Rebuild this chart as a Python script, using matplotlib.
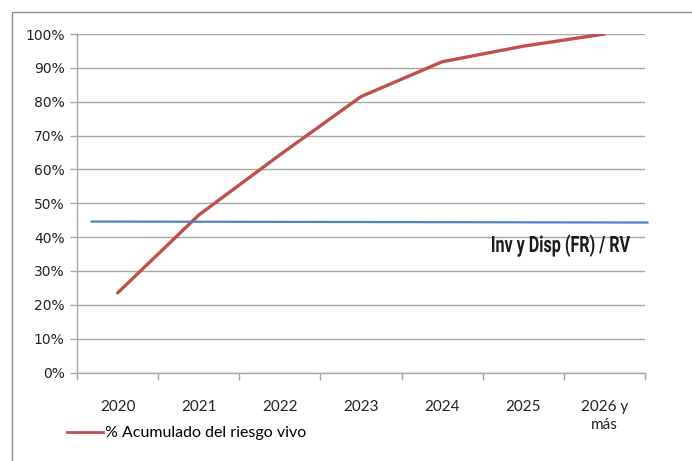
import matplotlib.pyplot as plt
from matplotlib.patches import Rectangle, PathPatch
from matplotlib.textpath import TextPath
from matplotlib.font_manager import FontProperties
from matplotlib.transforms import Affine2D, IdentityTransform

# datos
anios = ['2020', '2021', '2022', '2023', '2024', '2025', '2026 y\nmás']
acumulado = [23.5, 46.5, 64.3, 81.5, 91.8, 96.4, 100.0]
ratio_inv = [44.6, 44.3]  # Inv y Disp (FR) / RV, inicio y fin
etiqueta_serie = '% Acumulado del riesgo vivo'
etiqueta_ratio = 'Inv y Disp (FR) / RV'

ROJO = '#C0504D'
AZUL = '#4F81BD'
GRIS = '#A6A6A6'


def texto_estrecho(fig, texto, x0, x1, base, alto_may):
    # texto condensado: se escala la ruta del texto en horizontal
    prop = FontProperties(family='Roboto', weight='bold')
    tp = TextPath((0, 0), texto, size=100, prop=prop)
    ext = tp.get_extents()
    cap = TextPath((0, 0), 'I', size=100, prop=prop).get_extents().height
    sy = alto_may / cap
    sx = (x1 - x0) / ext.width
    tr = Affine2D().translate(-ext.x0, 0).scale(sx, sy).translate(x0, 461 - base)
    fig.patches.append(PathPatch(tr.transform_path(tp), transform=IdentityTransform(),
                                 facecolor='#1a1a1a', edgecolor='none'))


def main():
    fig = plt.figure(figsize=(6.92, 4.61), dpi=100)
    ax = fig.add_axes([77 / 692, 1 - 372.5 / 461, 568 / 692, 338.5 / 461])

    # marco exterior del gráfico
    fig.patches.append(Rectangle((12 / 692, -0.1), 1.2, 1 - 12 / 461 + 0.1,
                                 transform=fig.transFigure, fill=False,
                                 edgecolor='#8C8C8C', lw=1))

    x = list(range(len(anios)))
    ax.plot(x, acumulado, color=ROJO, lw=2.4, solid_capstyle='round',
            solid_joinstyle='round', zorder=3)

    # línea del ratio (dibujada sobre todo el ancho)
    ax.plot([-0.32, 6.53], ratio_inv, color=AZUL, lw=1.6, clip_on=False, zorder=3)
    texto_estrecho(fig, etiqueta_ratio, 492, 630, 252, 16)

    ax.set_xlim(-0.5, 6.5)
    ax.set_ylim(0, 100)
    ax.set_yticks(range(0, 101, 10))
    ax.set_yticklabels([f'{v}%' for v in range(0, 101, 10)], fontsize=10,
                       family='DejaVu Sans', color='#222222')
    ax.set_xticks(x)
    ax.set_xticklabels(anios, fontsize=11, family='Lato', color='#222222',
                       linespacing=1.3, va='top')
    ax.set_xticks([i - 0.5 for i in range(len(anios) + 1)], minor=True)
    ax.tick_params(axis='x', which='major', length=0, pad=20)
    ax.tick_params(axis='x', which='minor', length=5, color=GRIS, width=1)
    ax.tick_params(axis='y', length=5, color=GRIS, width=1, pad=4)

    ax.grid(axis='y', color=GRIS, lw=1)
    ax.set_axisbelow(True)
    for lado in ['top', 'right']:
        ax.spines[lado].set_visible(False)
    for lado in ['left', 'bottom']:
        ax.spines[lado].set_color(GRIS)
        ax.spines[lado].set_linewidth(1)

    # leyenda abajo a la izquierda
    fig.legend([plt.Line2D([], [], color=ROJO, lw=2)], [etiqueta_serie],
               loc='center left', bbox_to_anchor=(53 / 692, 1 - 433 / 461),
               frameon=False, handlelength=2.25, handletextpad=0.1,
               prop={'family': 'Lato', 'size': 11.5})

    fig.savefig('out.png', dpi=100)


if __name__ == '__main__':
    main()
